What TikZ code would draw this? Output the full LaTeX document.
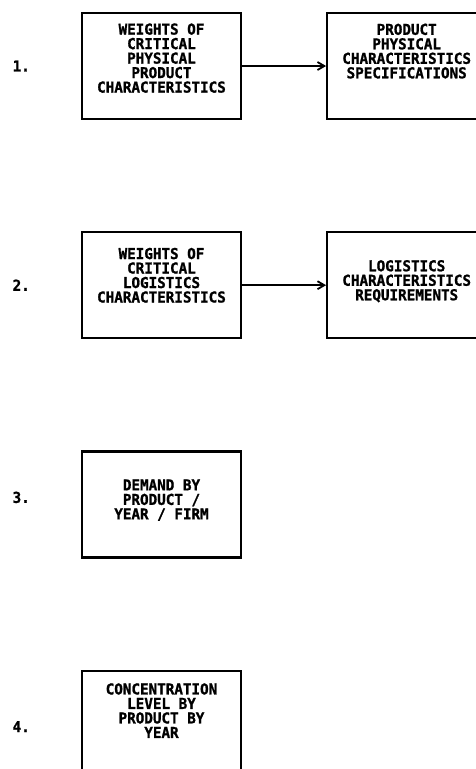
\documentclass[tikz,border=0pt]{standalone}
\usepackage{fontspec}
\newfontfamily\boxfont[BoldFont={DejaVu Sans Mono Bold},BoldFeatures={FakeBold=1.2,FakeStretch=0.95}]{DejaVu Sans Mono}
\usetikzlibrary{positioning,arrows.meta}
% extra depth under the last line lifts a box text by half of it
\newcommand{\lift}[1]{\rule[-#1]{0pt}{0pt}}

\begin{document}
\begin{tikzpicture}[x=1pt,y=1pt,line width=2.2pt,
  font={\boxfont\bfseries\fontsize{15pt}{14.5pt}\selectfont},>={Straight Barb[length=2.4mm,width=2.8mm]},
  box/.style={draw,align=center,minimum width=159pt,minimum height=106pt,inner sep=0pt},
  num/.style={inner sep=0pt}]
  \useasboundingbox (0,0) rectangle (476,-769);
  \clip (0,0) rectangle (476,-769);
  % row 1
  \node[box] (weightsphys) at (161.5,-66) {WEIGHTS OF\\CRITICAL\\PHYSICAL\\PRODUCT\\CHARACTERISTICS\lift{16pt}};
  \node[box,right=84pt of weightsphys] (physspec) {PRODUCT\\PHYSICAL\\CHARACTERISTICS\\SPECIFICATIONS\lift{30pt}};
  \node[num,left=50pt of weightsphys] (one) {1.};
  % row 2
  \node[box,below=111pt of weightsphys] (weightslog) {WEIGHTS OF\\CRITICAL\\LOGISTICS\\CHARACTERISTICS\lift{20pt}};
  \node[box,right=84pt of weightslog] (logreq) {LOGISTICS\\CHARACTERISTICS\\REQUIREMENTS\lift{10pt}};
  \node[num,left=50pt of weightslog] (two) {2.};
  % row 3
  \node[box,below=111pt of weightslog] (demand) {DEMAND BY\\PRODUCT /\\YEAR / FIRM\lift{10pt}};
  \node[num,left=50pt of demand,yshift=7pt] (three) {3.};
  % row 4
  \node[box,below=111pt of demand] (conc) {CONCENTRATION\\LEVEL BY\\PRODUCT BY\\YEAR\lift{26pt}};
  \node[num,left=50pt of conc,yshift=-3pt] (four) {4.};
  \draw[->,line width=1.8pt] (weightsphys.east) -- (physspec.west);
  \draw[->,line width=1.8pt] (weightslog.east) -- (logreq.west);
\end{tikzpicture}
\end{document}
